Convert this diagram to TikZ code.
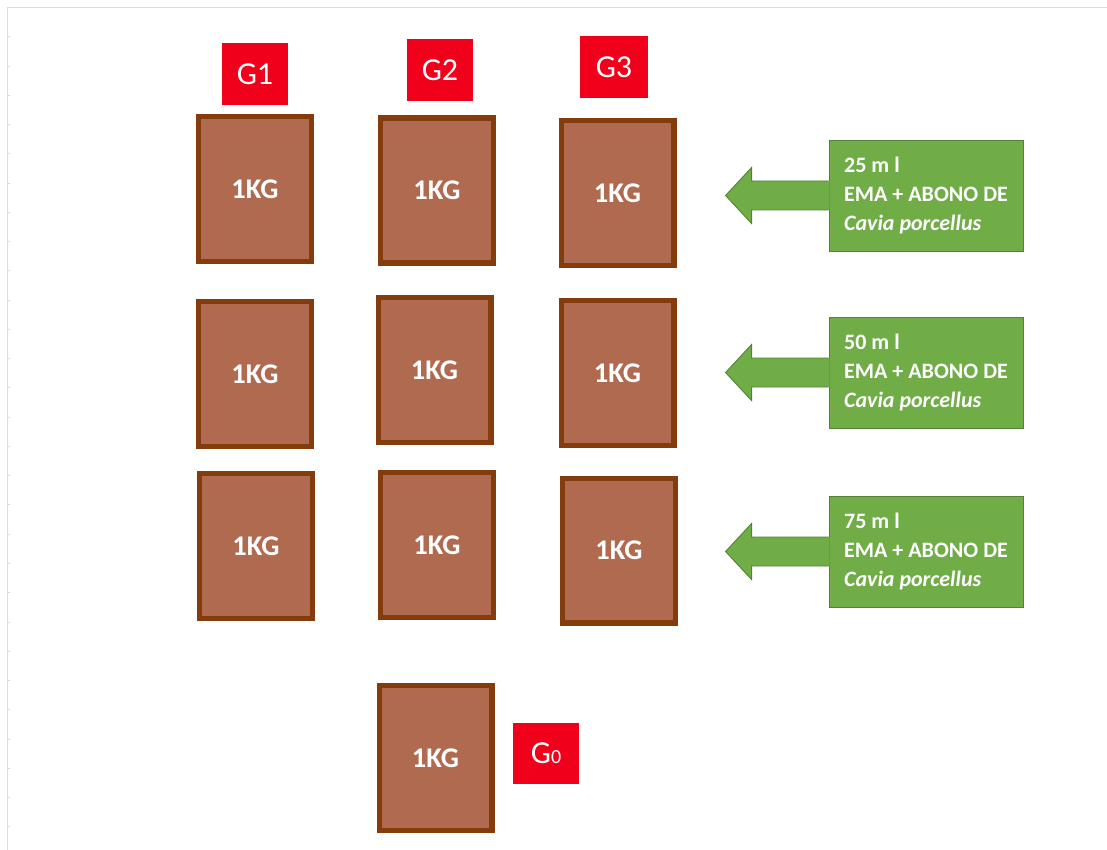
\documentclass[tikz,border=0pt]{standalone}
\usepackage{fontspec}
\setmainfont{Carlito}
\definecolor{soilfill}{HTML}{B06A50}
\definecolor{soilline}{HTML}{843C0C}
\definecolor{tagred}{HTML}{F0001B}
\definecolor{dosegreen}{HTML}{70AD47}
\definecolor{doseline}{HTML}{548235}
\begin{document}
\begin{tikzpicture}[
    x=1pt,y=-1pt,
    every node/.style={text=white},
    sheet/.style={draw=gray!28, line width=1.3pt},
    pot/.style={draw=soilline, fill=soilfill, line width=5.3pt, minimum width=112.7pt, minimum height=144.7pt, inner sep=0pt, font=\bfseries\fontsize{28.5}{30}\selectfont},
    tag/.style={fill=tagred, minimum width=66pt, minimum height=62pt, inner sep=0pt, font=\fontsize{32}{36}\selectfont},
    dose/.style={draw=doseline, fill=dosegreen, line width=0.9pt, minimum width=194pt, minimum height=111pt, inner sep=0pt, align=left, font=\bfseries\fontsize{22}{29}\selectfont},
    shaft/.style={draw=doseline, line width=0.9pt, line join=miter}
]
    \useasboundingbox (0,0) rectangle (1107,850);

    % sheet edge
    \draw[sheet] (7.5,850) -- (7.5,7.5) -- (1107,7.5);
    \foreach \i in {0,...,27} {
        \draw[sheet, line width=0.8pt] (7.5,36.7+29.26*\i) -- (9.5,36.7+29.26*\i);
    }

    % pots
    \foreach \name/\x/\y in {p11/255/189, p12/437/190.5, p13/617.5/193,
                             p21/255/374, p22/434.5/370, p23/617.5/373,
                             p31/256/546, p32/437/545, p33/619/550.5,
                             p0/435.5/758} {
        \node[pot] (\name) at (\x,\y) {1KG};
    }

    % groups
    \node[tag] (g1) at (255,74) {G1};
    \node[tag] (g2) at (440,70) {G2};
    \node[tag, minimum width=68pt] (g3) at (614,67) {G3};
    \node[tag, minimum height=61pt] (g0) at (546,753.5) {G{\fontsize{20}{24}\selectfont 0}};

    % doses
    \foreach \name/\y/\ml in {d1/195.5/25, d2/372.5/50, d3/551.5/75} {
        \node[dose] (\name) at (926,\y) {\ml{} m l\\EMA + ABONO DE\\\textit{Cavia porcellus}};
        \fill[dosegreen] (\name.west) ++(1,-14.5) -- ++(-78,0) -- ++(0,-13.5) -- ++(-26,28)
            -- ++(26,28) -- ++(0,-13.5) -- ++(78,0) -- cycle;
        \draw[shaft] (\name.west) ++(0,-14.5) -- ++(-77,0) -- ++(0,-13.5) -- ++(-26,28)
            -- ++(26,28) -- ++(0,-13.5) -- ++(77,0);
    }
\end{tikzpicture}
\end{document}
